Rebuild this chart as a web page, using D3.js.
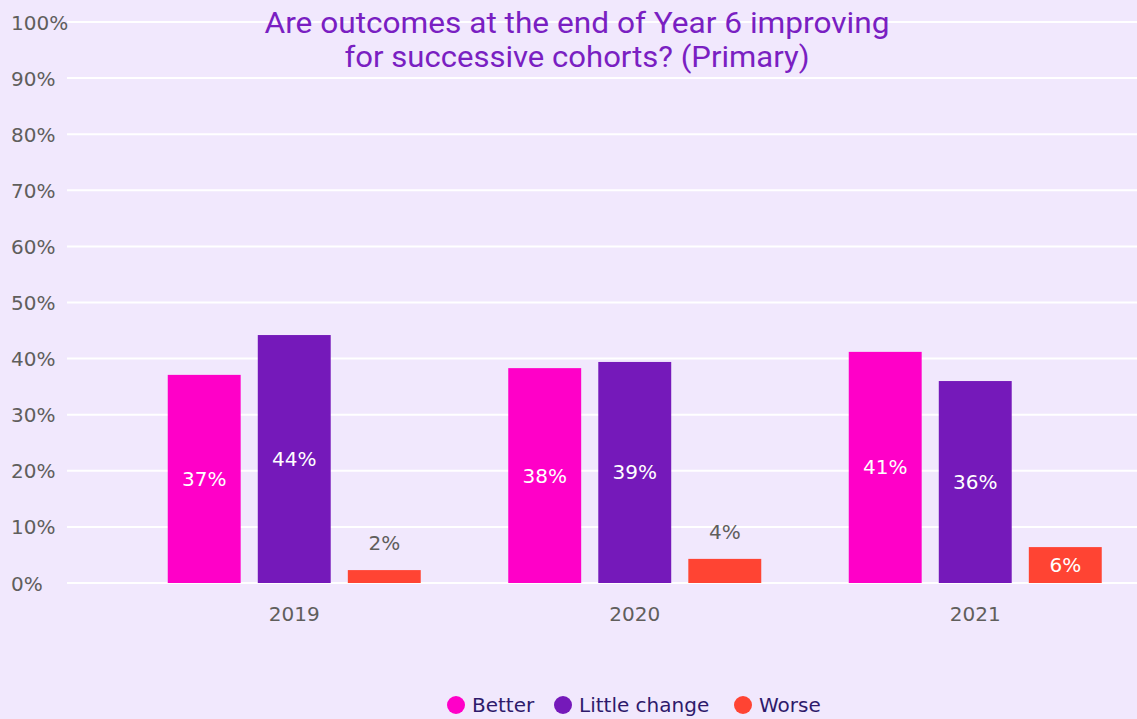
<!DOCTYPE html>
<html><head><meta charset="utf-8">
<script src="https://cdn.jsdelivr.net/npm/d3@7"></script>
<style>
html,body{margin:0;padding:0;background:#F1E8FD;}
svg{display:block;}
</style></head>
<body>
<svg id="chart" width="1137" height="719"></svg>
<script>
const categories = ["2019", "2020", "2021"];
const seriesNames = ["Better", "Little change", "Worse"];
const better = [37.1, 38.3, 41.2];
const littleChange = [44.2, 39.4, 36.0];
const worse = [2.3, 4.3, 6.4];
const valueLabels = [["37%", "44%", "2%"], ["38%", "39%", "4%"], ["41%", "36%", "6%"]];
const yTicks = [0, 10, 20, 30, 40, 50, 60, 70, 80, 90, 100];
const colors = ["#FF00C8", "#7519BA", "#FF4433"];
const titleLines = ["Are outcomes at the end of Year 6 improving", "for successive cohorts? (Primary)"];

const svg = d3.select("#chart");
const W = 1137, H = 719;
svg.append("rect").attr("width", W).attr("height", H).attr("fill", "#F1E8FD");

const font = "'DejaVu Sans', 'Open Sans', sans-serif";
const y = d3.scaleLinear().domain([0, 100]).range([583, 22]);
const x0 = d3.scaleBand().domain(categories).range([124, 1145.5]).paddingInner(0).paddingOuter(0);
const x1 = d3.scaleBand().domain(seriesNames).range([x0.bandwidth()/2 - 126.5, x0.bandwidth()/2 + 126.5]).paddingInner(0.19).paddingOuter(0);

// gridlines
svg.append("g").selectAll("line").data(yTicks).join("line")
  .attr("x1", 67).attr("x2", W)
  .attr("y1", d => y(d)).attr("y2", d => y(d))
  .attr("stroke", "#FFFFFF").attr("stroke-width", 2);

// y axis labels
const yAxis = d3.axisLeft(y).tickValues(yTicks).tickFormat(d => d + "%").tickSize(0);
const yg = svg.append("g").attr("transform", "translate(11,0)").call(yAxis);
yg.select(".domain").remove();
yg.selectAll("text").attr("text-anchor", "start").attr("x", 0).attr("dy", "0.35em")
  .attr("fill", "#605E5C").style("font-family", font).style("font-size", "20px");

// x axis labels
const xAxis = d3.axisBottom(x0).tickSize(0);
const xg = svg.append("g").attr("transform", "translate(0,600)").call(xAxis);
xg.select(".domain").remove();
xg.selectAll("text").attr("fill", "#605E5C").attr("dy", "0.35em").attr("y", 14)
  .style("font-family", font).style("font-size", "20px");

const seriesVals = [better, littleChange, worse];
const data = [];
categories.forEach((c, i) => {
  seriesNames.forEach((s, j) => {
    data.push({cat: c, ser: s, v: seriesVals[j][i], label: valueLabels[i][j], color: colors[j]});
  });
});

const groups = svg.append("g");
groups.selectAll("rect").data(data).join("rect")
  .attr("x", d => x0(d.cat) + x1(d.ser))
  .attr("width", x1.bandwidth())
  .attr("y", d => y(d.v))
  .attr("height", d => y(0) - y(d.v))
  .attr("fill", d => d.color);

groups.selectAll("text").data(data).join("text")
  .attr("x", d => x0(d.cat) + x1(d.ser) + x1.bandwidth()/2)
  .attr("y", d => {
    const h = y(0) - y(d.v);
    return h < 30 ? y(d.v) - 27 : (y(d.v) + y(0)) / 2;
  })
  .attr("dy", "0.35em")
  .attr("text-anchor", "middle")
  .attr("fill", d => (y(0) - y(d.v)) < 30 ? "#605E5C" : "#FFFFFF")
  .style("font-family", font).style("font-size", "20px")
  .text(d => d.label);

// title
const titleW = [625, 465];
svg.append("g").selectAll("text").data(titleLines).join("text")
  .attr("x", 577).attr("y", (d, i) => 23 + i * 34).attr("dy", "0.35em")
  .attr("text-anchor", "middle").attr("fill", "#7A1FC2")
  .attr("textLength", (d, i) => titleW[i]).attr("lengthAdjust", "spacingAndGlyphs")
  .style("font-family", "'Roboto', sans-serif").style("font-size", "29px")
  .text(d => d);

// legend
const legendX = [456, 563, 743];
const lg = svg.append("g");
seriesNames.forEach((s, j) => {
  lg.append("circle").attr("cx", legendX[j]).attr("cy", 705).attr("r", 9).attr("fill", colors[j]);
  lg.append("text").attr("x", legendX[j] + 16).attr("y", 705).attr("dy", "0.35em")
    .attr("fill", "#2E1A6B").style("font-family", font).style("font-size", "20px").text(s);
});
</script>
</body></html>
